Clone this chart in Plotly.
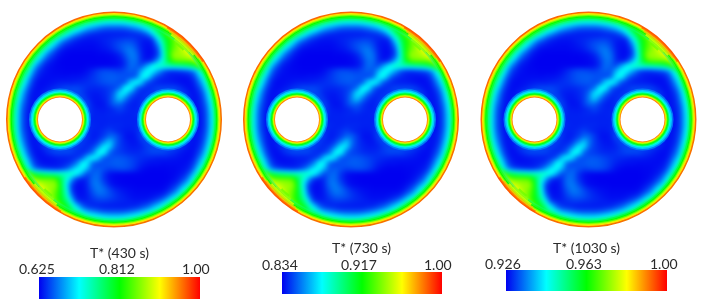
import numpy as np
import plotly.graph_objects as go
from plotly.colors import sample_colorscale

# Colour scale of the three colour bars
scale = [[0, '#0000f0'], [0.25, '#00ffff'], [0.5, '#00ff00'], [0.75, '#ffff00'], [1, '#ff0000']]

# Panels: captions, colour bar ticks
captions = ['T* (430 s)', 'T* (730 s)', 'T* (1030 s)']
t_min = [0.625, 0.834, 0.926]
t_max = [1.00, 1.00, 1.00]
tick_low = ['0.625', '0.834', '0.926']
tick_mid = ['0.812', '0.917', '0.963']
tick_high = ['1.00', '1.00', '1.00']

# Layer temperature (percent of the bar) against distance from the walls, in pixels
wall_dist = [8.0, 6.5, 5.0, 4.0, 3.0, 2.0, 0.7]
wall_pct = [37, 45, 50, 58, 68, 78, 90]
wall_alpha = [0.45, 0.7, 1, 1, 1, 1, 0.9]
hole_radius = [31, 29.5, 28, 27, 26, 25, 24.2, 23.4, 22.7]
hole_pct = [12, 20, 28, 38, 48, 58, 70, 80, 88]

# Hot wedge on the wall: distance from wall (px), angular span (deg), percent of the bar
plume_dist = [9.5, 7.5, 5.5, 3.5, 1.5]
plume_from = [45, 42, 39, 36, 33]
plume_to = [51, 53, 56, 58, 60]
plume_pct = [60, 66, 74, 82, 92]

# Temperature field (percent of the bar), upper half of the cross-section, rows top to centre
X = 99
upper_rows = [
 [X]*41,
 [X]*14 + [95,82,70,60,56,54,54,54,56,60,70,85,97] + [X]*14,
 [X]*12 + [88,64,54,46,40,37,34,32,32,32,34,37,40,46,54,66,90] + [X]*12,
 [X]*10 + [88,60,48,40,32,26,22,18,15,14,14,14,15,18,22,26,34,44,52,64,92] + [X]*10,
 [X]*8 + [95,72,52,40,30,22,15,11,8,7,6,6,6,6,6,7,8,10,16,30,46,56,66,80,96] + [X]*8,
 [X]*7 + [92,60,44,32,22,14,9,6,5,5,6,7,8,9,10,11,11,9,7,6,10,32,50,58,66,76,94] + [X]*7,
 [X]*6 + [92,56,40,28,17,9,6,4,3,3,3,4,6,8,11,14,16,16,12,6,4,5,20,44,58,66,72,82,96] + [X]*6,
 [X]*5 + [92,56,40,26,14,7,3,2,2,2,2,2,3,4,6,9,13,18,20,15,7,3,3,12,40,58,68,72,76,84,97] + [X]*5,
 [X]*4 + [95,60,40,26,14,7,3,1,0,0,0,0,0,1,1,2,3,7,14,20,18,8,3,3,12,36,58,72,72,74,78,86,97] + [X]*4,
 [X]*4 + [72,44,28,14,7,3,1,0,0,0,0,0,0,0,0,1,2,4,10,18,18,9,5,9,24,40,54,66,68,68,68,72,86] + [X]*4,
 [X]*3 + [88,52,32,17,7,4,2,1,0,0,0,0,1,1,1,1,1,2,4,10,18,16,12,24,36,42,42,42,42,44,46,50,56,70,92] + [X]*3,
 [X]*3 + [60,40,22,9,5,3,2,2,1,1,1,2,4,8,12,14,14,13,12,14,16,14,26,36,34,24,14,9,8,9,11,14,22,40,60] + [X]*3,
 [X]*2 + [88,48,30,14,6,3,3,3,3,3,4,4,5,7,10,13,15,16,16,15,14,12,16,34,36,20,11,8,6,5,4,4,6,14,30,48,88] + [X]*2,
 [X]*2 + [64,40,22,9,3,3,4,5,6,6,6,7,8,9,10,12,14,15,15,13,14,30,37,30,14,9,7,6,6,5,4,3,4,9,22,40,64] + [X]*2,
 [X] + [95,54,32,15,6,3,4,6,9,11,13,13,13,11,9,8,8,9,11,12,17,36,36,18,10,8,9,12,13,13,13,10,6,3,6,15,32,54,95] + [X],
 [X] + [82,46,26,11,4,4,7,11,13,13,13,13,13,11,7,6,6,8,11,17,32,34,20,11,8,9,11,13,13,13,13,13,10,5,4,11,26,46,82] + [X],
 [X] + [70,40,22,8,4,5,9,13,13,13,13,13,13,13,9,5,5,7,11,20,30,20,11,7,8,11,13,13,13,13,13,13,12,6,4,8,22,40,70] + [X],
 [X] + [60,36,18,7,4,6,13,13,13,13,13,13,13,13,13,6,4,5,11,17,17,11,7,6,10,13,13,13,13,13,13,13,13,7,4,7,18,36,60] + [X],
 [X] + [56,34,15,6,4,6,13,13,13,13,13,13,13,13,13,7,6,6,7,9,12,9,7,7,10,13,13,13,13,13,13,13,13,7,4,6,15,34,56] + [X],
 [X] + [54,32,14,5,4,6,13,13,13,13,13,13,13,13,13,7,7,7,8,8,8,7,7,8,10,13,13,13,13,13,13,13,13,7,4,5,14,32,54] + [X],
 [X,54,32,14,5,4,6,13,13,13,13,13,13,13,13,8,7,7,7,7,7,7,7,7,7,8,13,13,13,13,13,13,13,13,6,4,5,14,32,54,X],
]
bad = [(i, len(r)) for i, r in enumerate(upper_rows) if len(r) != 41]
assert not bad, bad
# The section has half-turn symmetry in the picture
field_pct = upper_rows + [r[::-1] for r in upper_rows[-2::-1]]
# Calibration of the eye estimates against the colour bar
CALIBRATION = 1.3

# Placement in the page, pixels
W, H = 706, 308
R_PX = 108
centres = [(114, 119.5), (351, 119.5), (588.5, 119.5)]
bars = [(39, 199.5, 276.5, 298.5), (282, 442, 272, 294), (506, 667, 270, 290.5)]
caption_pos = [(119, 252), (362, 247), (586, 247)]
tick_y = [268, 264, 263]
tick_x = [(37, 117, 196), (280, 359, 438), (503, 584, 664)]
HOLE_X = 0.5
HALF = 112
PAD = HALF / R_PX
INK = '#2b2b2b'

fig = go.Figure()
shapes = []
notes = []


def pct_color(p, alpha=1.0):
    c = sample_colorscale(scale, [p / 100])[0]
    return c.replace('rgb(', 'rgba(').replace(')', f',{alpha})')


for k, (cx, cy) in enumerate(centres):
    sfx = '' if k == 0 else str(k + 1)
    ax = 'coloraxis' + sfx
    lo, hi = t_min[k], t_max[k]
    z = [[lo + (v / 100) ** CALIBRATION * (hi - lo) for v in row] for row in field_pct]
    fig.add_trace(go.Heatmap(z=z, x0=-1, dx=0.05, y0=1, dy=-0.05, zsmooth='best',
                             coloraxis=ax, xaxis='x' + sfx, yaxis='y' + sfx, hoverinfo='skip'))
    fig.update_layout({
        'xaxis' + sfx: dict(domain=[(cx - HALF) / W, (cx + HALF) / W], range=[-PAD, PAD], visible=False, fixedrange=True),
        'yaxis' + sfx: dict(domain=[1 - (cy + HALF) / H, 1 - (cy - HALF) / H], range=[-PAD, PAD], visible=False, fixedrange=True),
    })
    x0, x1, y0, y1 = bars[k]
    fig.update_layout({ax: dict(
        colorscale=scale, cmin=lo, cmax=hi,
        colorbar=dict(orientation='h', x=(x0 + x1) / 2 / W, xanchor='center', y=1 - y1 / H, yanchor='bottom',
                      len=x1 - x0, lenmode='pixels', thickness=y1 - y0, thicknessmode='pixels',
                      xpad=0, ypad=0, outlinewidth=0, ticks='', showticklabels=False),
    )})
    tx, ty = caption_pos[k]
    notes.append(dict(text=captions[k], x=tx / W, y=1 - ty / H, xref='paper', yref='paper', showarrow=False,
                      xanchor='center', yanchor='middle', font=dict(family='Lato', size=14, color=INK)))
    for xp, label in zip(tick_x[k], (tick_low[k], tick_mid[k], tick_high[k])):
        notes.append(dict(text=label, x=xp / W, y=1 - tick_y[k] / H, xref='paper', yref='paper', showarrow=False,
                          xanchor='center', yanchor='middle', font=dict(family='Lato', size=14, color=INK)))
    xr, yr = 'x' + sfx, 'y' + sfx

    def circle(r_px, cxx=0.0, **kw):
        r = r_px / R_PX
        return dict(type='circle', xref=xr, yref=yr, x0=cxx - r, x1=cxx + r, y0=-r, y1=r, layer='above', **kw)

    for d, p, a in zip(wall_dist, wall_pct, wall_alpha):
        shapes.append(circle(R_PX - d, line=dict(color=pct_color(p, a), width=1.6)))
    for turn in (0, 180):
        for d, a0, a1, p in zip(plume_dist, plume_from, plume_to, plume_pct):
            ang = np.radians(np.linspace(a0, a1, 14) + turn)
            r = (R_PX - d) / R_PX
            pts = ' L'.join(f'{r * np.cos(t):.4f},{r * np.sin(t):.4f}' for t in ang)
            shapes.append(dict(type='path', path='M' + pts, xref=xr, yref=yr, layer='above',
                               line=dict(color=pct_color(p, 0.7), width=2.4)))
    shapes.append(circle(R_PX + 30, line=dict(color='white', width=60)))
    for side in (-HOLE_X, HOLE_X):
        for r, p in zip(hole_radius, hole_pct):
            shapes.append(circle(r, side, fillcolor=pct_color(p), line=dict(width=0)))
        shapes.append(circle(22, side, fillcolor='white', line=dict(width=0)))

fig.update_layout(width=W, height=H, margin=dict(l=0, r=0, t=0, b=0), paper_bgcolor='white',
                  plot_bgcolor='white', shapes=shapes, annotations=notes, showlegend=False)
soft_look = ("var s=document.createElement('style');"
             "s.textContent='body{margin:0} .hm image{filter:blur(2px);clip-path:circle(50% at 50% 50%)} "
             ".js-plotly-plot{filter:blur(0.5px)}';"
             "document.head.appendChild(s);")
fig.write_html('out.html', config={'displayModeBar': False, 'staticPlot': True}, post_script=soft_look)
